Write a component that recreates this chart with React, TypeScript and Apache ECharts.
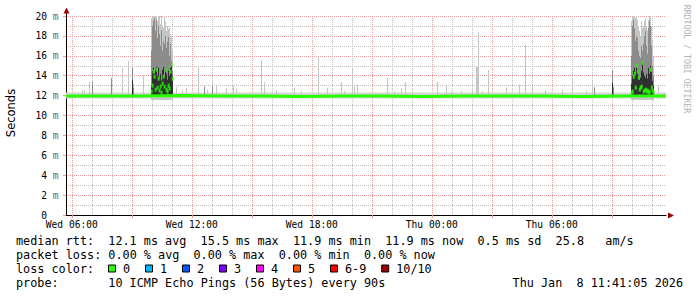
import React, { useEffect, useRef } from 'react';
import * as echarts from 'echarts';

// ---- time axis (hours since Wed 00:00) ----
const T0 = 5.71;
const T1 = 35.71;
const tickHours = [6, 12, 18, 24, 30];
const tickLabels = ['Wed 06:00', 'Wed 12:00', 'Wed 18:00', 'Thu 00:00', 'Thu 06:00'];
const Y_MAX = 20;
const STEP = 0.05; // one smoke column = 3 minutes

// median rtt (ms) along the baseline
const medianBase: [number, number][] = [
  [5.71, 11.95], [7.5, 11.95], [9.5, 11.95], [11.5, 12.0], [13.5, 11.95], [15.5, 11.95],
  [17.5, 11.9], [19.5, 11.95], [21.5, 11.95], [23.5, 11.9], [25.5, 11.95], [27.5, 11.95],
  [29.5, 11.95], [31.5, 11.9], [33.5, 11.95], [35.71, 11.95],
];

// faint smoke band around the median, everywhere
const baseBand = [11.72, 12.3];

// isolated smoke spikes: [hour, light top, mid top, dark top] (0 = none)
const spikeSmoke: number[][] = [
  [6.54, 12.56, 0, 0], [6.64, 12.56, 0, 0], [6.89, 13.4, 0, 0], [7.04, 13.57, 13.4, 0],
  [8.01, 13.84, 13.7, 0], [8.54, 14.74, 0, 0], [8.84, 15.5, 0, 0], [9.01, 14.9, 14.8, 13.6],
  [9.06, 13.2, 12.8, 0], [9.56, 14.07, 0, 0],
  [11.22, 12.86, 0, 0], [11.54, 12.56, 0, 0], [11.74, 12.73, 0, 0], [12.35, 15.0, 0, 0],
  [12.64, 13.07, 12.9, 0], [12.79, 12.6, 0, 0], [13.04, 13.23, 13.0, 0], [13.22, 12.97, 0, 0],
  [13.72, 12.73, 0, 0], [14.09, 13.0, 0, 0], [14.24, 12.7, 0, 0], [15.5, 15.58, 0, 0],
  [15.64, 13.33, 0, 0], [16.22, 12.6, 0, 0], [17.14, 12.8, 0, 0], [17.47, 12.5, 0, 0],
  [18.35, 15.8, 0, 0], [18.8, 12.8, 0, 0], [19.47, 13.4, 0, 0], [19.64, 12.5, 0, 0],
  [20.02, 14.74, 0, 0], [20.14, 12.9, 0, 0], [20.27, 13.07, 0, 0], [21.8, 13.8, 0, 0],
  [22.14, 12.4, 0, 0], [22.47, 12.7, 0, 0], [22.69, 13.4, 0, 0], [23.05, 12.4, 0, 0],
  [24.3, 13.4, 0, 0], [24.75, 13.0, 0, 0], [24.97, 12.4, 0, 0], [25.47, 12.5, 0, 0],
  [26.05, 12.5, 0, 0], [26.24, 14.9, 0, 0], [26.29, 14.9, 0, 0], [26.34, 18.36, 0, 0],
  [26.55, 12.4, 0, 0], [26.85, 14.57, 0, 0], [27.72, 12.8, 0, 0], [28.39, 13.1, 0, 0],
  [28.67, 17.08, 0, 0], [29.05, 13.0, 0, 0], [29.69, 12.6, 0, 0], [30.55, 12.6, 0, 0],
  [31.05, 13.74, 0, 0], [31.72, 12.5, 0, 0], [32.05, 13.4, 0, 0], [32.14, 12.9, 12.8, 0],
  [33.02, 14.8, 14.5, 13.3], [33.07, 13.0, 12.8, 0], [35.34, 12.96, 0, 0],
];

// burst near Wed 10:00 – columns of [light top, mid top, dark top, median]
const burstAStart = 9.99;
const burstA: number[][] = [
  [19.8, 16.5, 13.0, 12.4], [20.0, 19.0, 14.5, 13.0], [20.0, 19.5, 14.8, 14.4], [20.0, 19.8, 14.3, 13.9],
  [20.0, 18.5, 14.6, 12.6], [20.0, 19.6, 14.9, 14.6], [19.5, 17.8, 14.0, 12.8], [20.0, 19.0, 14.8, 13.7],
  [20.0, 18.2, 13.8, 12.5], [19.2, 17.0, 14.2, 12.9], [20.0, 18.6, 13.5, 12.3], [19.0, 16.5, 14.6, 13.2],
  [18.8, 17.5, 14.9, 13.9], [20.0, 17.2, 13.9, 12.9], [19.5, 18.0, 14.8, 14.6], [18.5, 16.8, 14.2, 12.6],
  [19.0, 17.4, 13.6, 12.4], [18.7, 17.9, 14.5, 13.0], [18.9, 16.0, 14.0, 12.7], [18.2, 17.2, 14.8, 14.4],
  [18.0, 15.5, 15.1, 15.1], [16.5, 14.5, 14.0, 13.7],
];

// burst near Thu 10:00
const burstBStart = 34.0;
const burstB: number[][] = [
  [19.5, 16.0, 13.2, 12.3], [20.0, 19.0, 14.0, 12.4], [20.0, 19.6, 14.5, 13.9], [20.0, 18.8, 14.8, 14.2],
  [19.8, 17.5, 14.2, 12.8], [20.0, 18.0, 15.0, 15.0], [19.6, 17.8, 14.6, 14.4], [19.0, 16.5, 14.0, 13.8],
  [18.5, 16.0, 13.6, 12.6], [18.0, 15.8, 13.8, 12.8], [19.5, 17.0, 14.5, 12.9], [18.8, 16.5, 15.4, 15.3],
  [19.0, 17.2, 14.3, 12.4], [19.5, 18.0, 14.0, 12.5], [19.8, 18.5, 13.8, 12.6], [19.0, 17.0, 14.2, 12.4],
  [18.6, 16.2, 13.7, 12.5], [19.6, 18.8, 14.8, 12.3], [20.0, 19.5, 14.2, 12.4], [20.0, 19.0, 15.0, 14.6],
  [19.0, 17.0, 14.4, 12.8], [17.5, 15.0, 13.5, 12.5], [16.0, 14.0, 13.0, 12.3],
];

const lossLabels = ['0', '1', '2', '3', '4', '5', '6-9', '10/10'];
const lossColors = ['#26ff00', '#00b8ff', '#0059ff', '#7e00ff', '#ff00ff', '#ff5500', '#ff0000', '#a10000'];

const legendLines = [
  'median rtt:  12.1 ms avg  15.5 ms max  11.9 ms min  11.9 ms now  0.5 ms sd  25.8   am/s',
  'packet loss: 0.00 % avg  0.00 % max  0.00 % min  0.00 % now',
  'loss color:',
  'probe:       10 ICMP Echo Pings (56 Bytes) every 90s',
];
const stampText = 'Thu Jan  8 11:41:05 2026';
const watermark = 'RRDTOOL / TOBI OETIKER';
const yTitle = 'Seconds';

// ---- styling ----
const MONO = '"DejaVu Sans Mono", monospace';
const GREY = '#bdbdbd';
const RED = '#f09a9a';
const GREEN = '#26ff00';
const SMOKE_COLORS = ['#c6c6c6', '#8c8c8c', '#303030'];
const SMOKE_FLOOR = [0, 11.85, 12.0];
const CW = 7.1;
const LEG_FS = 11.8;

function textRow(line: string, x0: number, y: number) {
  const els: any[] = [];
  const re = /\S+(?: \S+)*/g;
  let m: RegExpExecArray | null;
  while ((m = re.exec(line))) {
    els.push({
      type: 'text',
      x: x0 + m.index * CW,
      y,
      silent: true,
      style: {
        text: m[0], fill: '#000', fontFamily: MONO, fontSize: LEG_FS,
        align: 'left', verticalAlign: 'middle', textAlign: 'left', textVerticalAlign: 'middle',
      },
    });
  }
  return els;
}

export default function App() {
  const ref = useRef<HTMLDivElement>(null);
  useEffect(() => {
    if (!ref.current) return;
    const chart = echarts.init(ref.current, undefined, { renderer: 'svg' });

    const smokeData: number[][] = [];
    spikeSmoke.forEach((s) => smokeData.push([s[0], 11.95, s[1], s[2], s[3]]));
    const burstMedians: number[][] = [];
    burstA.forEach((c, i) => {
      const h = burstAStart + i * STEP;
      smokeData.push([h, 11.55, c[0], c[1], c[2]]);
      burstMedians.push([h, c[3]]);
    });
    burstB.forEach((c, i) => {
      const h = burstBStart + i * STEP;
      smokeData.push([h, 11.55, c[0], c[1], c[2]]);
      burstMedians.push([h, c[3]]);
    });

    const rowY = [240.5, 254.8, 268.8, 283];
    const graphic: any[] = [];
    legendLines.forEach((l, i) => graphic.push(...textRow(l, 16, rowY[i])));
    graphic.push(...textRow(stampText, 683 - stampText.length * CW, rowY[3]));
    let bx = 108;
    lossLabels.forEach((lab, i) => {
      graphic.push({
        type: 'rect', silent: true,
        shape: { x: bx + 0.5, y: 265, width: 7, height: 7 },
        style: { fill: lossColors[i], stroke: '#000', lineWidth: 1 },
      });
      graphic.push(...textRow(lab, bx + 15, rowY[2]));
      bx += 15 + lab.length * CW + 14.9;
    });
    // axis arrows and extension
    graphic.push({ type: 'line', silent: true, shape: { x1: 66.5, y1: 16, x2: 66.5, y2: 11 }, style: { stroke: '#000', lineWidth: 1 } });
    graphic.push({ type: 'polygon', silent: true, shape: { points: [[63.5, 13.5], [69.5, 13.5], [66.5, 7.5]] }, style: { fill: '#a00000' } });
    graphic.push({ type: 'polygon', silent: true, shape: { points: [[668, 212.5], [668, 218.5], [674, 215.5]] }, style: { fill: '#a00000' } });
    graphic.push({
      type: 'text', x: 11, y: 113, rotation: Math.PI / 2, silent: true,
      style: { text: yTitle, fill: '#000', fontFamily: '"DejaVu Sans", sans-serif', fontSize: 11.5,
        align: 'center', verticalAlign: 'middle', textAlign: 'center', textVerticalAlign: 'middle' },
    });
    graphic.push({
      type: 'text', x: 687, y: 59, rotation: -Math.PI / 2, silent: true,
      style: { text: watermark, fill: '#b4b4b4', fontFamily: MONO, fontSize: 8.2,
        align: 'center', verticalAlign: 'middle', textAlign: 'center', textVerticalAlign: 'middle' },
    });

    const labelFont = { fontFamily: MONO, fontSize: 9.6, color: '#000' };

    const option: any = {
      animation: false,
      backgroundColor: '#ffffff',
      grid: { left: 66, top: 16, width: 600, height: 199 },
      xAxis: [
        {
          type: 'value', min: T0, max: T1, minInterval: 1, maxInterval: 1, splitNumber: 30, position: 'top',
          axisLine: { show: false }, axisTick: { show: false }, axisLabel: { show: false },
          splitLine: { show: true, showMinLine: false, showMaxLine: false, lineStyle: { color: GREY, type: [1, 1], width: 1 } },
        },
        {
          type: 'value', min: T0, max: T1, minInterval: 3, maxInterval: 3, splitNumber: 10, position: 'bottom',
          axisLine: { show: true, onZero: false, lineStyle: { color: '#000', width: 1 } },
          axisTick: { show: true, length: 3, lineStyle: { color: RED, width: 1 } },
          axisLabel: {
            show: true, showMinLabel: false, showMaxLabel: false, margin: 4, ...labelFont,
            formatter: (v: number) => {
              const i = tickHours.findIndex((h) => Math.abs(h - v) < 1e-6);
              return i >= 0 ? tickLabels[i] : '';
            },
          },
          splitLine: { show: true, showMinLine: false, showMaxLine: false, lineStyle: { color: RED, type: [1, 1], width: 1 } },
        },
      ],
      yAxis: [
        {
          type: 'value', min: 0, max: Y_MAX, interval: 1, position: 'right',
          axisLine: { show: false }, axisTick: { show: false }, axisLabel: { show: false },
          splitLine: { show: true, showMinLine: false, lineStyle: { color: GREY, type: [1, 1], width: 1 } },
        },
        {
          type: 'value', min: 0, max: Y_MAX, interval: 2, position: 'left',
          axisLine: { show: true, onZero: false, lineStyle: { color: '#000', width: 1 } },
          axisTick: { show: true, length: 3, lineStyle: { color: RED, width: 1 } },
          axisLabel: {
            margin: 7.5,
            formatter: (v: number) => (v === 0 ? '{z|0}' : `{n|${v}}{u|m}`),
            rich: {
              n: { ...labelFont },
              z: { ...labelFont, padding: [0, 11.6, 0, 0] },
              u: { fontFamily: MONO, fontSize: 9.6, color: '#6a6a6a', padding: [0, 0, 0, 5.8] },
            },
          },
          splitLine: { show: true, showMinLine: false, lineStyle: { color: RED, type: [1, 1], width: 1 } },
        },
      ],
      series: [
        {
          type: 'custom', name: 'band', xAxisIndex: 1, yAxisIndex: 1, silent: true, z: 1, clip: true,
          data: [[T0, T1, baseBand[0], baseBand[1]]],
          encode: { x: [0, 1], y: [2, 3] },
          renderItem: (_p: any, api: any) => {
            const a = api.coord([api.value(0), api.value(3)]);
            const b = api.coord([api.value(1), api.value(2)]);
            return { type: 'rect', shape: { x: a[0], y: a[1], width: b[0] - a[0], height: b[1] - a[1] }, style: { fill: '#d6d6d6' } };
          },
        },
        {
          type: 'custom', name: 'smoke', xAxisIndex: 1, yAxisIndex: 1, silent: true, z: 2, clip: true,
          data: smokeData,
          encode: { x: 0, y: [1, 2] },
          renderItem: (_p: any, api: any) => {
            const h = api.value(0);
            const lo0 = api.value(1);
            const w = Math.max(1, api.size([STEP, 0])[0]);
            const x = Math.round(api.coord([h, lo0])[0] - w / 2);
            const kids: any[] = [];
            SMOKE_COLORS.forEach((c, i) => {
              const top = api.value(2 + i);
              const lo = Math.max(lo0, SMOKE_FLOOR[i]);
              if (!(top > lo)) return;
              const p = api.coord([h, top]);
              const b = api.coord([h, lo]);
              kids.push({ type: 'rect', shape: { x, y: p[1], width: Math.round(w), height: b[1] - p[1] }, style: { fill: c } });
            });
            return { type: 'group', children: kids };
          },
        },
        {
          type: 'line', name: 'median', xAxisIndex: 1, yAxisIndex: 1, z: 3, silent: true,
          data: medianBase, showSymbol: false, symbol: 'none',
          lineStyle: { color: GREEN, width: 3 },
        },
        {
          type: 'scatter', name: 'median burst', xAxisIndex: 1, yAxisIndex: 1, z: 4, silent: true,
          data: burstMedians, symbol: 'rect', symbolSize: [2, 4],
          itemStyle: { color: GREEN },
        },
      ],
      graphic,
    };
    chart.setOption(option);
    return () => chart.dispose();
  }, []);

  return (
    <div
      ref={ref}
      style={{ position: 'absolute', left: 0, top: 0, width: 697, height: 297, background: '#fff' }}
    />
  );
}
